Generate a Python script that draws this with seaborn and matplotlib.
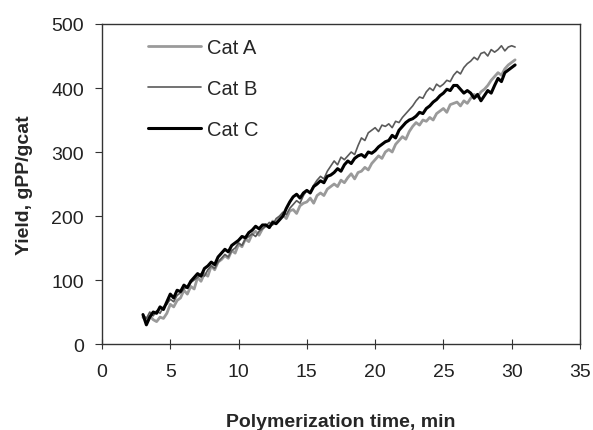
import numpy as np
import pandas as pd
import matplotlib
matplotlib.use("Agg")
import matplotlib.pyplot as plt
import seaborn as sns

# sampling grid, minutes (every 15 s from 3 to 30.25 min)
time_min = np.arange(3.0, 30.26, 0.25)

cat_a = [42, 36, 44, 38, 35, 42, 40, 48, 62, 58, 68, 72, 84, 78, 90, 86,
         104, 98, 110, 106, 122, 116, 128, 132, 138, 134, 146, 142,
         156, 152, 164, 160, 172, 176, 170, 180, 186, 182, 192, 190,
         198, 202, 196, 208, 210, 204, 216, 220, 222, 228, 220, 232,
         236, 232, 242, 246, 250, 246, 256, 252, 260, 266, 258, 268,
         270, 276, 272, 282, 288, 294, 290, 300, 304, 300, 312, 318,
         324, 320, 332, 340, 346, 342, 350, 348, 354, 350, 360, 364,
         368, 362, 374, 376, 378, 372, 380, 376, 384, 390, 386, 394,
         398, 404, 412, 418, 424, 420, 430, 436, 440, 444]

cat_b = [46, 40, 50, 44, 52, 48, 58, 62, 70, 66, 76, 80, 86, 90, 96, 100,
         104, 110, 106, 116, 122, 118, 128, 134, 140, 136, 146, 150,
         158, 154, 164, 168, 172, 168, 176, 180, 184, 190, 186, 196,
         200, 206, 202, 212, 218, 224, 220, 232, 240, 236, 248, 256,
         262, 258, 270, 278, 286, 280, 292, 288, 294, 300, 296, 310,
         322, 318, 330, 334, 338, 332, 342, 340, 344, 338, 348, 346,
         354, 360, 366, 372, 380, 386, 384, 394, 400, 396, 406, 402,
         406, 412, 410, 420, 426, 422, 432, 438, 442, 448, 444, 454,
         456, 450, 460, 456, 460, 466, 458, 464, 466, 464]

cat_c = [46, 30, 42, 50, 48, 58, 54, 66, 78, 72, 84, 82, 92, 88, 98, 104,
         110, 106, 118, 122, 128, 124, 136, 142, 148, 144, 154, 158,
         162, 168, 166, 174, 178, 184, 180, 186, 186, 182, 190, 188,
         194, 200, 212, 222, 230, 234, 228, 236, 240, 236, 246, 250,
         255, 252, 262, 264, 268, 274, 270, 280, 286, 282, 290, 294,
         296, 292, 300, 298, 302, 308, 312, 316, 318, 326, 322, 334,
         340, 346, 350, 352, 356, 362, 360, 368, 372, 378, 382, 388,
         392, 398, 396, 404, 404, 398, 392, 396, 392, 384, 390, 380,
         388, 396, 392, 404, 415, 410, 424, 428, 432, 436]

df = pd.DataFrame({"t": time_min, "Cat A": cat_a, "Cat B": cat_b, "Cat C": cat_c})
long = df.melt(id_vars="t", var_name="cat", value_name="yield")

sns.set_style("ticks")
plt.rcParams["font.family"] = ["Liberation Sans", "DejaVu Sans"]

fig = plt.figure(figsize=(5.93, 4.31), dpi=100)
ax = fig.add_axes([0.172, 0.1995, 0.806, 0.7425])

colors = {"Cat A": "#9a9a9a", "Cat B": "#5a5a5a", "Cat C": "#000000"}
widths = {"Cat A": 2.0, "Cat B": 1.2, "Cat C": 2.2}
for name in ["Cat A", "Cat B", "Cat C"]:
    sub = long[long["cat"] == name]
    sns.lineplot(data=sub, x="t", y="yield", color=colors[name],
                 linewidth=widths[name], label=name, ax=ax)

ax.set_xlim(0, 35)
ax.set_ylim(0, 500)
ax.set_xticks(range(0, 36, 5))
ax.set_yticks(range(0, 501, 100))
ax.tick_params(labelsize=14, length=5, color="#333333", labelcolor="#222222")
ax.tick_params(axis="x", direction="inout", length=7, pad=10)
ax.tick_params(axis="y", direction="out", pad=8)
for s in ax.spines.values():
    s.set_color("#333333")
    s.set_linewidth(1.0)

ax.set_xlabel("Polymerization time, min", fontsize=14, fontweight="bold", labelpad=24)
ax.set_ylabel("Yield, gPP/gcat", fontsize=14, fontweight="bold", labelpad=13)

ax.legend(loc="upper left", frameon=False, fontsize=14.5, handlelength=2.6,
          handletextpad=0.3, labelspacing=1.08, borderaxespad=0.0,
          bbox_to_anchor=(0.08, 0.98))

fig.savefig("out.png", dpi=100)
